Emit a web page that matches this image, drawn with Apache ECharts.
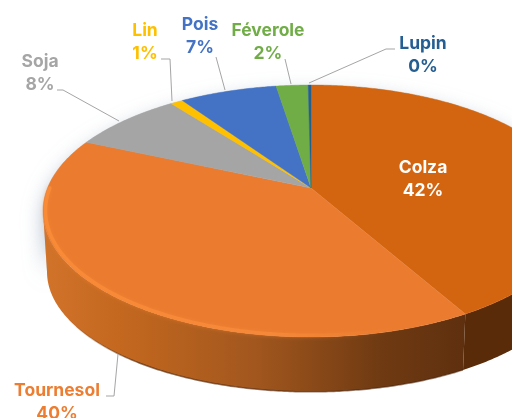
<!DOCTYPE html>
<html><head><meta charset="utf-8">
<style>html,body{margin:0;padding:0;background:#fff;overflow:hidden}#c{width:512px;height:418px}</style>
<script src="https://cdn.jsdelivr.net/npm/echarts@6/dist/echarts.min.js"></script>
</head><body><div id="c"></div>
<script>
const categories = ['Colza','Tournesol','Soja','Lin','Pois','Féverole','Lupin'];
const values = [41.8,39.8,8.0,0.9,7.0,2.3,0.2];
const colors = ['#D46510','#EA7B2F','#A5A5A5','#FFC000','#4472C4','#70AD47','#255E91'];
const labelColors = ['#FFFFFF','#ED7D31','#A5A5A5','#FFC000','#4472C4','#70AD47','#255E91'];

// view geometry of the tilted disc (drawing style, not data)
const apex = [311,188], K = 0.1825, RX = 263.5, RY = 121.8;
const lowApexY = 250, lowSX = 0.985, lowSY = 0.952;
const LEFT_EDGE = 259.5;
const labelAt = [[423,179],[57,402],[40,73],[145,42],[200,36],[268,42],[423,55]];
const leaders = [null,
  [[106,396],[114,396],[118,354]],
  [[57,90],[63,90],[119,121]],
  [[161,59],[170,59],[172,101]],
  [[216,57],[225,90]],
  [[285,59],[291,84]],
  [[395,49],[386,49],[309,83]]];

const total = values.reduce((a,b)=>a+b,0);
let run = 0;
const rows = values.map(v=>{const s=run; run+=v; return [s/total*360,run/total*360,v/total*100];});

function upper(t,f=1){const a=t*Math.PI/180,u=Math.sin(a)*f,v=Math.cos(a)*f,d=1+K*v;
  return [apex[0]+RX*u/d,apex[1]-RY*v/d];}
function lower(t){const a=t*Math.PI/180,u=Math.sin(a),v=Math.cos(a),d=1+K*v;
  return [apex[0]+RX*lowSX*u/d,lowApexY-RY*lowSY*v/d];}
function arc(fn,a,b,f){const n=Math.max(2,Math.ceil(Math.abs(b-a)*2)),p=[];
  for(let i=0;i<=n;i++)p.push(fn(a+(b-a)*i/n,f));return p;}

const chart = echarts.init(document.getElementById('c'),null,{renderer:'canvas'});
const grad=(x1,x2,stops)=>new echarts.graphic.LinearGradient(x1,0,x2,0,stops);

function renderWall(params,api){
  const i=params.dataIndex, s=api.value(0), e=api.value(1), ch=[];
  if(i===0){
    const sil=arc(upper,LEFT_EDGE,440).concat(arc(lower,LEFT_EDGE,440).reverse());
    ch.push({type:'polygon',shape:{points:sil},
      style:{fill:'#C4CCD4',shadowBlur:20,shadowColor:'rgba(130,150,175,0.6)',shadowOffsetY:9}});
    const p=arc(upper,60,e).concat(arc(lower,60,e).reverse());
    ch.push({type:'polygon',shape:{points:p},style:{fill:'#592B08'}});
  } else if(i===1){
    const p=arc(upper,s,LEFT_EDGE).concat(arc(lower,s,LEFT_EDGE).reverse());
    ch.push({type:'polygon',shape:{points:p},style:{
      fill:grad(1,0,[{offset:0,color:'#5F300F'},{offset:0.2,color:'#6F3A12'},{offset:0.5,color:'#A2571E'},{offset:0.82,color:'#C4681F'},{offset:1,color:'#D2732A'}])}});
    ch.push({type:'polyline',shape:{points:arc(lower,s,LEFT_EDGE)},style:{fill:null,lineWidth:1.5,
      stroke:grad(1,0,[{offset:0,color:'rgba(70,30,5,0.5)'},{offset:0.78,color:'rgba(70,30,5,0.6)'},{offset:0.95,color:'rgba(70,30,5,0)'}])}});
  }
  return {type:'group',children:ch};
}
function renderTop(params,api){
  const i=params.dataIndex, s=api.value(0), e=api.value(1);
  const pts=[apex].concat(arc(upper,s,e));
  const ch=[{type:'polygon',shape:{points:pts},style:{fill:colors[i],stroke:colors[i],lineWidth:0.4}}];
  if(i===1){
    ch.push({type:'polyline',shape:{points:arc(upper,s+14,270,0.991)},style:{fill:null,lineWidth:3.5,lineCap:'round',
      stroke:grad(1,0,[{offset:0,color:'rgba(240,130,50,0)'},{offset:0.35,color:'#F6883A'},{offset:1,color:'#F98A36'}]),
      shadowBlur:4,shadowColor:'rgba(251,141,56,0.5)'}});
  }
  return {type:'group',children:ch};
}
function renderLabel(params,api){
  const i=params.dataIndex, ch=[];
  if(leaders[i]) ch.push({type:'polyline',shape:{points:leaders[i]},style:{fill:null,stroke:'#A5A5A5',lineWidth:1}});
  ch.push({type:'text',x:labelAt[i][0],y:labelAt[i][1],style:{
    text:categories[i]+'\n'+Math.round(api.value(2))+'%',
    fill:labelColors[i],font:'700 17.5px Inter, sans-serif',align:'center',verticalAlign:'middle',lineHeight:22.5}});
  return {type:'group',children:ch};
}
chart.setOption({
  animation:false,backgroundColor:'#ffffff',
  series:[
    {type:'custom',coordinateSystem:'none',data:rows,renderItem:renderWall,z:1,silent:true},
    {type:'custom',coordinateSystem:'none',data:rows,renderItem:renderTop,z:2,silent:true},
    {type:'custom',coordinateSystem:'none',data:rows,renderItem:renderLabel,z:3,silent:true}
  ]
});
</script></body></html>
